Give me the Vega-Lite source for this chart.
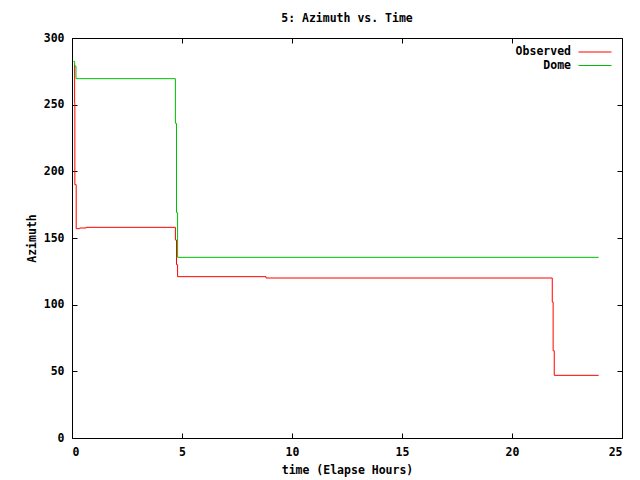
{
  "$schema": "https://vega.github.io/schema/vega-lite/v6.json",
  "width": 550,
  "height": 400,
  "autosize": "none",
  "padding": {"left": 72, "top": 38, "right": 18, "bottom": 42},
  "background": "white",
  "title": {"text": "5: Azimuth vs. Time", "anchor": "middle", "offset": 8, "font": "DejaVu Sans Mono", "fontSize": 11.5, "fontWeight": "bold", "color": "#000"},
  "config": {
    "view": {"stroke": "#000", "strokeWidth": 1},
    "axis": {"grid": false, "domain": false, "tickColor": "#000", "tickSize": -5, "tickWidth": 1, "labelFont": "DejaVu Sans Mono", "labelFontSize": 11.5, "labelFontWeight": "bold", "labelColor": "#000", "titleFont": "DejaVu Sans Mono", "titleFontSize": 11.5, "titleFontWeight": "bold", "titleColor": "#000"},
    "legend": {"labelFont": "DejaVu Sans Mono", "labelFontSize": 11.5, "labelFontWeight": "bold", "labelColor": "#000"}
  },
  "data": {"values": [
    {"t": 0.10, "az": 280, "series": "Observed"},
    {"t": 0.12, "az": 251, "series": "Observed"},
    {"t": 0.13, "az": 190, "series": "Observed"},
    {"t": 0.19, "az": 157, "series": "Observed"},
    {"t": 0.35, "az": 157.5, "series": "Observed"},
    {"t": 0.64, "az": 158, "series": "Observed"},
    {"t": 4.70, "az": 148.5, "series": "Observed"},
    {"t": 4.75, "az": 130, "series": "Observed"},
    {"t": 4.80, "az": 121, "series": "Observed"},
    {"t": 8.82, "az": 120, "series": "Observed"},
    {"t": 21.83, "az": 102, "series": "Observed"},
    {"t": 21.87, "az": 65.5, "series": "Observed"},
    {"t": 21.92, "az": 47, "series": "Observed"},
    {"t": 23.94, "az": 47, "series": "Observed"},
    {"t": 0.06, "az": 282.5, "series": "Dome"},
    {"t": 0.12, "az": 279, "series": "Dome"},
    {"t": 0.18, "az": 269.5, "series": "Dome"},
    {"t": 4.70, "az": 236, "series": "Dome"},
    {"t": 4.75, "az": 169, "series": "Dome"},
    {"t": 4.80, "az": 135.5, "series": "Dome"},
    {"t": 23.94, "az": 135.5, "series": "Dome"}
  ]},
  "encoding": {
    "color": {"field": "series", "type": "nominal",
      "scale": {"domain": ["Observed", "Dome"], "range": ["#ff0000", "#00c000"]},
      "legend": {"title": null, "orient": "top-right", "offset": 8, "symbolType": "M -3 0 L 3 0", "symbolSize": 121, "symbolStrokeWidth": 1, "symbolFillColor": "transparent", "labelAlign": "right", "labelOffset": -30, "rowPadding": 1.5, "padding": 0}}
  },
  "layer": [
    {
      "transform": [{"filter": "datum.series === 'Observed'"}],
      "mark": {"type": "line", "interpolate": "step-after", "strokeWidth": 1},
      "encoding": {
        "x": {"field": "t", "type": "quantitative", "scale": {"domain": [0, 25], "nice": false}, "axis": {"values": [0, 5, 10, 15, 20, 25], "title": "time (Elapse Hours)", "labelPadding": 13, "titlePadding": 7}},
        "y": {"field": "az", "type": "quantitative", "scale": {"domain": [0, 300], "nice": false}, "axis": {"values": [0, 50, 100, 150, 200, 250, 300], "title": "Azimuth", "labelPadding": 13, "titlePadding": 6}}
      }
    },
    {
      "transform": [{"filter": "datum.series === 'Dome'"}],
      "mark": {"type": "line", "interpolate": "step-after", "strokeWidth": 1},
      "encoding": {
        "x": {"field": "t", "type": "quantitative", "scale": {"domain": [0, 25], "nice": false}, "axis": {"orient": "top", "values": [0, 5, 10, 15, 20, 25], "labels": false, "title": null}},
        "y": {"field": "az", "type": "quantitative", "scale": {"domain": [0, 300], "nice": false}, "axis": {"orient": "right", "values": [0, 50, 100, 150, 200, 250, 300], "labels": false, "title": null}}
      }
    }
  ],
  "resolve": {"axis": {"x": "independent", "y": "independent"}}
}
